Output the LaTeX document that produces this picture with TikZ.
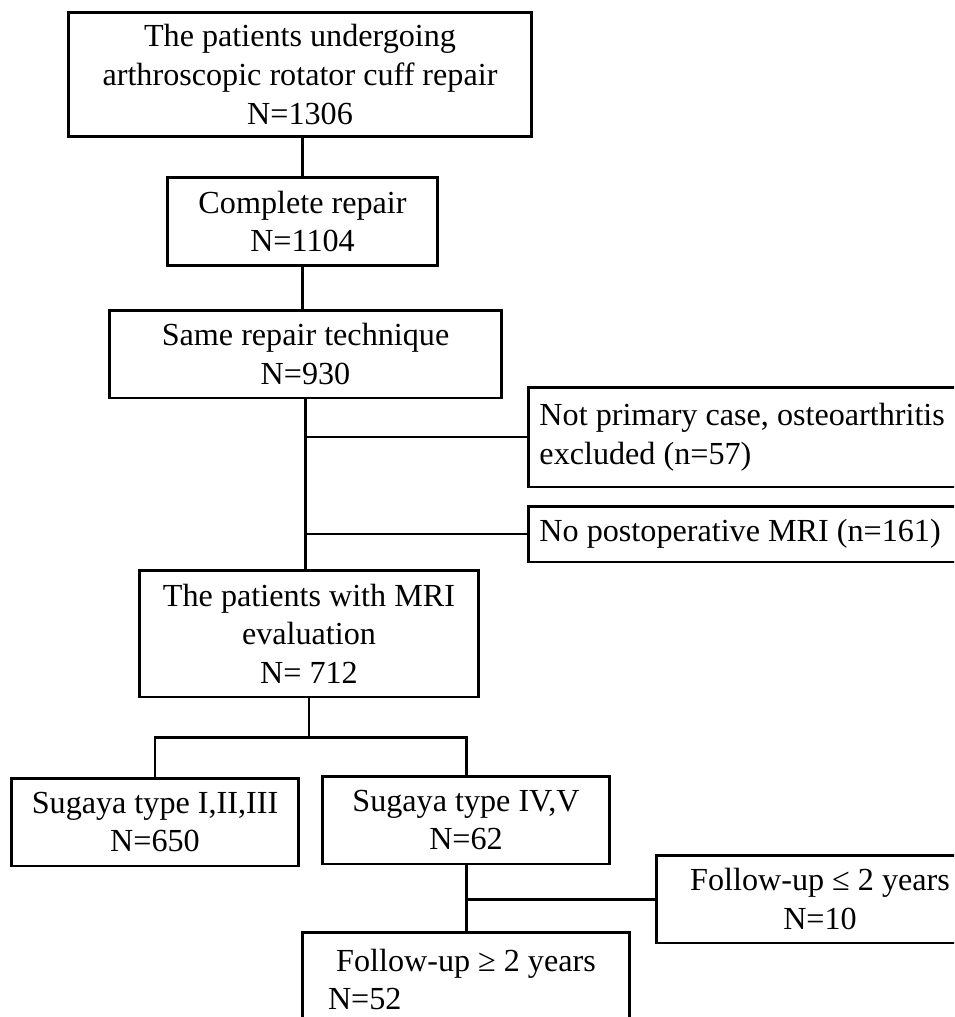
\documentclass[tikz,border=0pt]{standalone}
\usepackage{fontspec}
\setmainfont{Liberation Serif}
\usepackage{tikz}
\usetikzlibrary{positioning,calc}

\begin{document}
\begin{tikzpicture}[x=0.02cm, y=-0.02cm, every node/.style={font=\fontsize{18.3}{22}\selectfont}]
    \tikzstyle{stage} = [rectangle, draw=black, line width=1.7pt, fill=white, text centered, align=center, inner sep=2pt]
    \tikzstyle{excluded} = [rectangle, draw=black, line width=1.7pt, fill=white, anchor=west, align=flush left, inner xsep=0.22cm, text width=8.56cm]
    \tikzstyle{link} = [line width=1.7pt]

    \useasboundingbox (0,0) rectangle (954,1017);
    \clip (0,0) rectangle (954,1017);

    % Main flow
    \node [stage, minimum width=9.28cm, minimum height=2.5cm] (patients) at (300,74.5) {The patients undergoing\\arthroscopic rotator cuff repair\\N=1306};
    \node [stage, minimum width=5.42cm, minimum height=1.78cm] (complete) at (302.5,221.5) {Complete repair\\N=1104};
    \node [stage, minimum width=7.86cm, minimum height=1.76cm] (technique) at (305.5,354) {Same repair technique\\N=930};

    % Excluded cases
    \node [excluded, minimum height=2cm] (notprimary) at (527,437) {Not primary case, osteoarthritis\\excluded (n=57)};
    \node [excluded, minimum height=1.12cm] (nomri) at (527,534) {No postoperative MRI (n=161)};

    % MRI evaluation and Sugaya types
    \node [stage, minimum width=6.8cm, minimum height=2.54cm] (mri) at (309,633.5) {The patients with MRI\\evaluation\\N= 712};
    \node [stage, minimum width=5.76cm, minimum height=1.76cm] (sugayalow) at (155,822) {Sugaya type I,II,III\\N=650};
    \node [stage, minimum width=5.76cm, minimum height=1.76cm] (sugayahigh) at (466,820) {Sugaya type IV,V\\N=62};

    % Follow-up
    \node [stage, minimum width=6.56cm, minimum height=1.76cm] (shortfu) at (820,899) {Follow-up ≤ 2 years\\N=10};
    \node [stage, anchor=north, align=flush left, inner xsep=0.52cm, text width=5.52cm, minimum height=1.88cm] (longfu) at (466,931) {\makebox[5.52cm]{Follow-up ≥ 2 years}\\N=52};

    \coordinate (split) at (310,737);

    % Connectors
    \draw [link] (complete.north |- patients.south) -- (complete.north);
    \draw [link] (complete.south) -- (complete.south |- technique.north);
    \draw [link] (technique.south) -- (technique.south |- mri.north);
    \draw [link] (notprimary.west -| technique.south) -- (notprimary.west);
    \draw [link] (nomri.west -| technique.south) -- (nomri.west);
    \draw [link] (mri.south) -- (mri.south |- split);
    \draw [link] (sugayalow.north) |- (split) -| (sugayahigh.north);
    \draw [link] (sugayahigh.south) -- (longfu.north);
    \draw [link] (shortfu.west -| sugayahigh.south) -- (shortfu.west);
\end{tikzpicture}
\end{document}
